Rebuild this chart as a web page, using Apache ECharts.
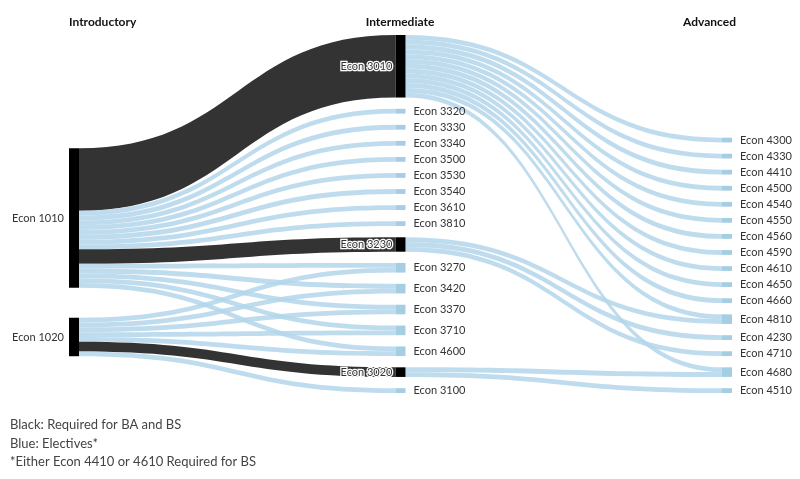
<!DOCTYPE html>
<html>
<head>
<meta charset="utf-8">
<script src="https://cdn.jsdelivr.net/npm/echarts@6/dist/echarts.min.js"></script>
<style>html,body{margin:0;padding:0;background:#fff}#c{width:800px;height:479px}</style>
</head>
<body>
<div id="c"></div>
<script>
const introductory = ['Econ 1010', 'Econ 1020'];
const intermediate = ['Econ 3010', 'Econ 3320', 'Econ 3330', 'Econ 3340', 'Econ 3500', 'Econ 3530', 'Econ 3540', 'Econ 3610', 'Econ 3810', 'Econ 3230', 'Econ 3270', 'Econ 3420', 'Econ 3370', 'Econ 3710', 'Econ 4600', 'Econ 3020', 'Econ 3100'];
const advanced = ['Econ 4300', 'Econ 4330', 'Econ 4410', 'Econ 4500', 'Econ 4540', 'Econ 4550', 'Econ 4560', 'Econ 4590', 'Econ 4610', 'Econ 4650', 'Econ 4660', 'Econ 4810', 'Econ 4230', 'Econ 4710', 'Econ 4680', 'Econ 4510'];
const requiredCourses = ['Econ 1010', 'Econ 1020', 'Econ 3010', 'Econ 3230', 'Econ 3020'];

const linkSources = [
  'Econ 1010','Econ 1010','Econ 1010','Econ 1010','Econ 1010','Econ 1010','Econ 1010','Econ 1010','Econ 1010',
  'Econ 1010','Econ 1010','Econ 1010','Econ 1010','Econ 1010','Econ 1010',
  'Econ 1020','Econ 1020','Econ 1020','Econ 1020','Econ 1020','Econ 1020','Econ 1020',
  'Econ 3010','Econ 3010','Econ 3010','Econ 3010','Econ 3010','Econ 3010','Econ 3010','Econ 3010','Econ 3010','Econ 3010','Econ 3010','Econ 3010','Econ 3010',
  'Econ 3230','Econ 3230','Econ 3230',
  'Econ 3020','Econ 3020'
];
const linkTargets = [
  'Econ 3010','Econ 3320','Econ 3330','Econ 3340','Econ 3500','Econ 3530','Econ 3540','Econ 3610','Econ 3810',
  'Econ 3230','Econ 3270','Econ 3420','Econ 3370','Econ 3710','Econ 4600',
  'Econ 3270','Econ 3420','Econ 3370','Econ 3710','Econ 4600','Econ 3020','Econ 3100',
  'Econ 4300','Econ 4330','Econ 4410','Econ 4500','Econ 4540','Econ 4550','Econ 4560','Econ 4590','Econ 4610','Econ 4650','Econ 4660','Econ 4810','Econ 4680',
  'Econ 4810','Econ 4230','Econ 4710',
  'Econ 4680','Econ 4510'
];
const linkValues = [
  13,1,1,1,1,1,1,1,1,
  3,1,1,1,1,1,
  1,1,1,1,1,2,1,
  1,1,1,1,1,1,1,1,1,1,1,1,1,
  1,1,1,
  1,1
];
const requiredLinks = [['Econ 1010','Econ 3010'], ['Econ 1010','Econ 3230'], ['Econ 1020','Econ 3020']];
const columnTitles = ['Introductory', 'Intermediate', 'Advanced'];
const notes = ['Black: Required for BA and BS', 'Blue: Electives*', '*Either Econ 4410 or 4610 Required for BS'];

const BLACK = '#000000', DARK = '#333333', BLUE_NODE = '#a6cee3', BLUE_LINK = '#b3d6ea';
const FONT = 'Lato';
const midLeftLabel = ['Econ 3010', 'Econ 3230', 'Econ 3020'];

const nodes = [];
introductory.forEach(n => nodes.push({
  name: n, itemStyle: {color: BLACK},
  label: {position: 'left', distance: 5}
}));
intermediate.forEach(n => {
  const req = requiredCourses.includes(n);
  nodes.push({
    name: n, itemStyle: {color: req ? BLACK : BLUE_NODE},
    label: midLeftLabel.includes(n)
      ? {position: 'left', distance: 3, textBorderColor: '#fff', textBorderWidth: 2.5}
      : {position: 'right', distance: 8}
  });
});
advanced.forEach(n => nodes.push({
  name: n, itemStyle: {color: BLUE_NODE}, label: {position: 'right', distance: 8}
}));

const links = linkSources.map((s, i) => {
  const t = linkTargets[i];
  const req = requiredLinks.some(p => p[0] === s && p[1] === t);
  return {
    source: s, target: t, value: linkValues[i],
    lineStyle: req ? {color: DARK, opacity: 1} : {color: BLUE_LINK, opacity: 0.85}
  };
});

const chart = echarts.init(document.getElementById('c'));
chart.setOption({
  animation: false,
  backgroundColor: '#fff',
  graphic: [
    {type: 'text', left: 69, top: 16, style: {text: columnTitles[0], font: 'bold 12px ' + FONT, fill: '#111'}},
    {type: 'text', left: 'center', top: 16, style: {text: columnTitles[1], font: 'bold 12px ' + FONT, fill: '#111'}},
    {type: 'text', right: 64, top: 16, style: {text: columnTitles[2], font: 'bold 12px ' + FONT, fill: '#111'}},
    {type: 'text', left: 10, top: 416, style: {text: notes.join('\n'), font: '13px ' + FONT, fill: '#444', lineHeight: 18.5}}
  ],
  series: [{
    type: 'sankey',
    left: 69, right: 68, top: 35, bottom: 86,
    nodeWidth: 10,
    nodeGap: 11.25,
    nodeAlign: 'left',
    layoutIterations: 32,
    draggable: false,
    emphasis: {disabled: true},
    label: {fontFamily: FONT, fontSize: 11, color: '#333'},
    itemStyle: {borderWidth: 0},
    lineStyle: {curveness: 0.5},
    data: nodes,
    links: links
  }]
});
</script>
</body>
</html>
